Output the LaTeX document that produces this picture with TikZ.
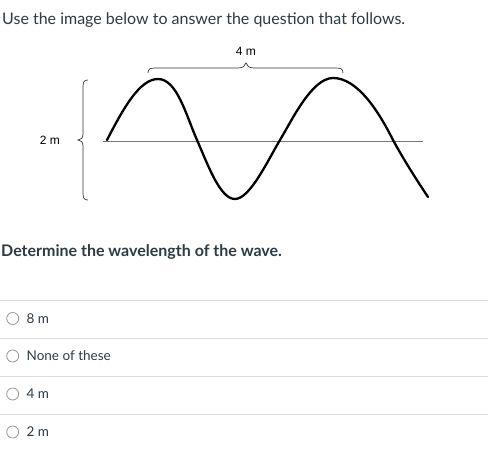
\documentclass[tikz,border=0pt]{standalone}
\usepackage{fontspec}
\setmainfont{Lato}
\newfontfamily\arialfont{Liberation Sans}
\definecolor{txt}{HTML}{2D3B45}
\definecolor{sep}{HTML}{DDDDDD}
\definecolor{axisgray}{HTML}{777777}
\tikzset{
  qtext/.style={anchor=base west, inner sep=0pt, text=txt, font=\fontsize{16}{19}\selectfont},
  opttext/.style={anchor=base west, inner sep=0pt, text=txt, font=\fontsize{13.5}{16}\selectfont},
  lbl/.style={inner sep=0pt, font=\arialfont\fontsize{12}{14}\selectfont},
  radio/.style={circle, draw=gray!80, line width=0.8pt, minimum size=12pt, inner sep=0pt},
  sepline/.style={draw=sep, line width=1pt},
  brace/.style={draw=black!80, line width=0.7pt},
  wave/.style={draw=black, line width=2.3pt},
}
\begin{document}
\begin{tikzpicture}[x=1pt, y=-1pt]
\useasboundingbox (0,0) rectangle (488,459);
\fill[white] (0,0) rectangle (488,459);
\node[qtext] (q1) at (2,24) {Use the image below to answer the question that follows.};
% axis
\coordinate (a0) at (103,141);
\coordinate (a1) at (423,141);
\draw[axisgray, line width=0.8pt] (a0) -- (a1);
% wave
\draw[wave, line cap=round] (107,140) .. controls (124,107) and (140,79) .. (158,79)
  .. controls (177,79) and (186,115) .. (197,140)
  .. controls (208,165) and (220,199) .. (235,199)
  .. controls (250,199) and (268,160) .. (280,140)
  .. controls (292,120) and (312,78) .. (333,78)
  .. controls (357,78) and (378,110) .. (393,140)
  .. controls (405,162) and (418,182) .. (428,197);
% top brace
\draw[brace] (148,73) .. controls (148,69) and (150,68) .. (155,68) -- (238,68)
  .. controls (243,68) and (245,66) .. (246,63)
  .. controls (247,66) and (249,68) .. (254,68) -- (336,68)
  .. controls (341,68) and (343,69) .. (343,73);
\node[lbl] (w) at (246,51) {4 m};
% left brace
\draw[brace] (88,80) .. controls (84,80) and (83,82) .. (83,87) -- (83,134)
  .. controls (83,138) and (81,140) .. (78,140)
  .. controls (81,140) and (83,142) .. (83,146) -- (83,193)
  .. controls (83,198) and (84,200) .. (88,200);
\node[lbl] (h) at (50,140) {2 m};
% question
\node[qtext, font=\bfseries\fontsize{16}{19}\selectfont] (q2) at (1,256) {Determine the wavelength of the wave.};
% separators
\draw[sepline] (0,300) -- (488,300);
\draw[sepline] (0,338) -- (488,338);
\draw[sepline] (0,376.5) -- (488,376.5);
\draw[sepline] (0,414.5) -- (488,414.5);
% options
\node[radio] (r1) at (12.7,318.5) {};
\node[opttext] (o1) at (26.5,323) {8 m};
\node[radio] (r2) at (12.7,356) {};
\node[opttext] (o2) at (26.5,360.5) {None of these};
\node[radio] (r3) at (12.7,394) {};
\node[opttext] (o3) at (26.5,398.5) {4 m};
\node[radio] (r4) at (12.7,432) {};
\node[opttext] (o4) at (26.5,436.5) {2 m};
\end{tikzpicture}
\end{document}
